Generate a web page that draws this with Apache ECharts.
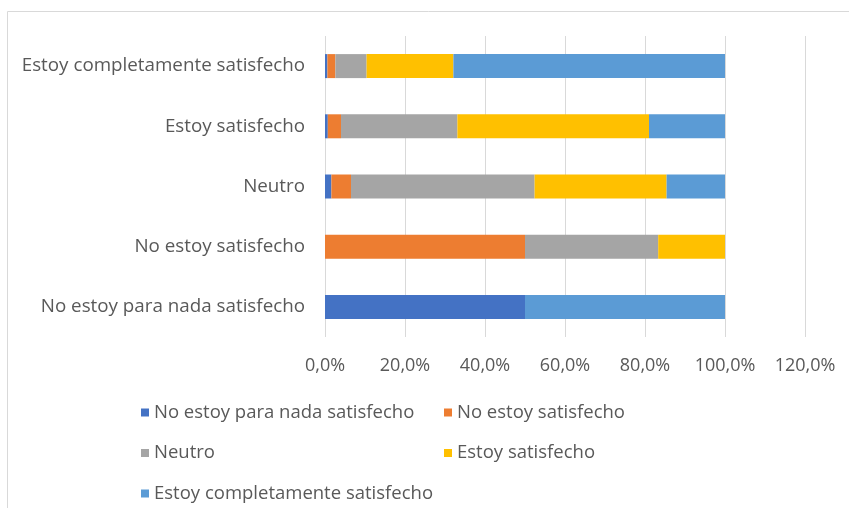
<!DOCTYPE html>
<html><head><meta charset="utf-8">
<script src="https://cdn.jsdelivr.net/npm/echarts@6/dist/echarts.min.js"></script>
<style>html,body{margin:0;padding:0;background:#fff}#c{width:849px;height:508px}</style>
</head><body><div id="c"></div>
<script>
const categories = ['No estoy para nada satisfecho','No estoy satisfecho','Neutro','Estoy satisfecho','Estoy completamente satisfecho'];
const seriesNames = ['No estoy para nada satisfecho','No estoy satisfecho','Neutro','Estoy satisfecho','Estoy completamente satisfecho'];
const nada = [50.0, 0, 1.6, 0.7, 0.6];
const noSat = [0, 50.0, 4.9, 3.3, 2.0];
const neutro = [0, 33.3, 45.9, 29.1, 7.8];
const sat = [0, 16.7, 33.0, 47.9, 21.7];
const completo = [50.0, 0, 14.6, 19.0, 67.9];
const colors = ['#4472C4','#ED7D31','#A5A5A5','#FFC000','#5B9BD5'];
const xTicks = [0,20,40,60,80,100,120];
const values = [nada, noSat, neutro, sat, completo];
const font = '"Open Sans", sans-serif';
const chart = echarts.init(document.getElementById('c'), null, {renderer:'canvas'});
const legendCommon = {orient:'vertical', top:403, itemGap:21.5, padding:0,
  itemWidth:8, itemHeight:8, icon:'rect',
  textStyle:{color:'#595959', fontSize:18.5, fontFamily:font}};
chart.setOption({
  animation:false,
  graphic:[{type:'rect', shape:{x:7.5,y:11.5,width:900,height:600}, style:{fill:'none', stroke:'#d9d9d9', lineWidth:1}, z:-1}],
  grid:{left:325, right:44, top:36, bottom:171, containLabel:false},
  xAxis:{type:'value', min:xTicks[0], max:xTicks[xTicks.length-1], interval:20,
    axisLine:{show:false}, axisTick:{show:false},
    splitLine:{lineStyle:{color:'#d9d9d9', width:1}},
    axisLabel:{margin:20, color:'#595959', fontSize:18, fontFamily:font,
      formatter:v=>v.toFixed(1).replace('.',',')+'%'}},
  yAxis:{type:'category', data:categories,
    axisLine:{show:false}, axisTick:{show:false},
    axisLabel:{margin:20, color:'#595959', fontSize:18.8, fontFamily:font}},
  legend:[
    Object.assign({data:[seriesNames[0],seriesNames[2],seriesNames[4]], left:141}, legendCommon),
    Object.assign({data:[seriesNames[1],seriesNames[3]], left:444}, legendCommon)
  ],
  series: seriesNames.map((n,i)=>({name:n, type:'bar', stack:'t', data:values[i], barWidth:24,
    itemStyle:{color:colors[i]}}))
});
</script></body></html>
